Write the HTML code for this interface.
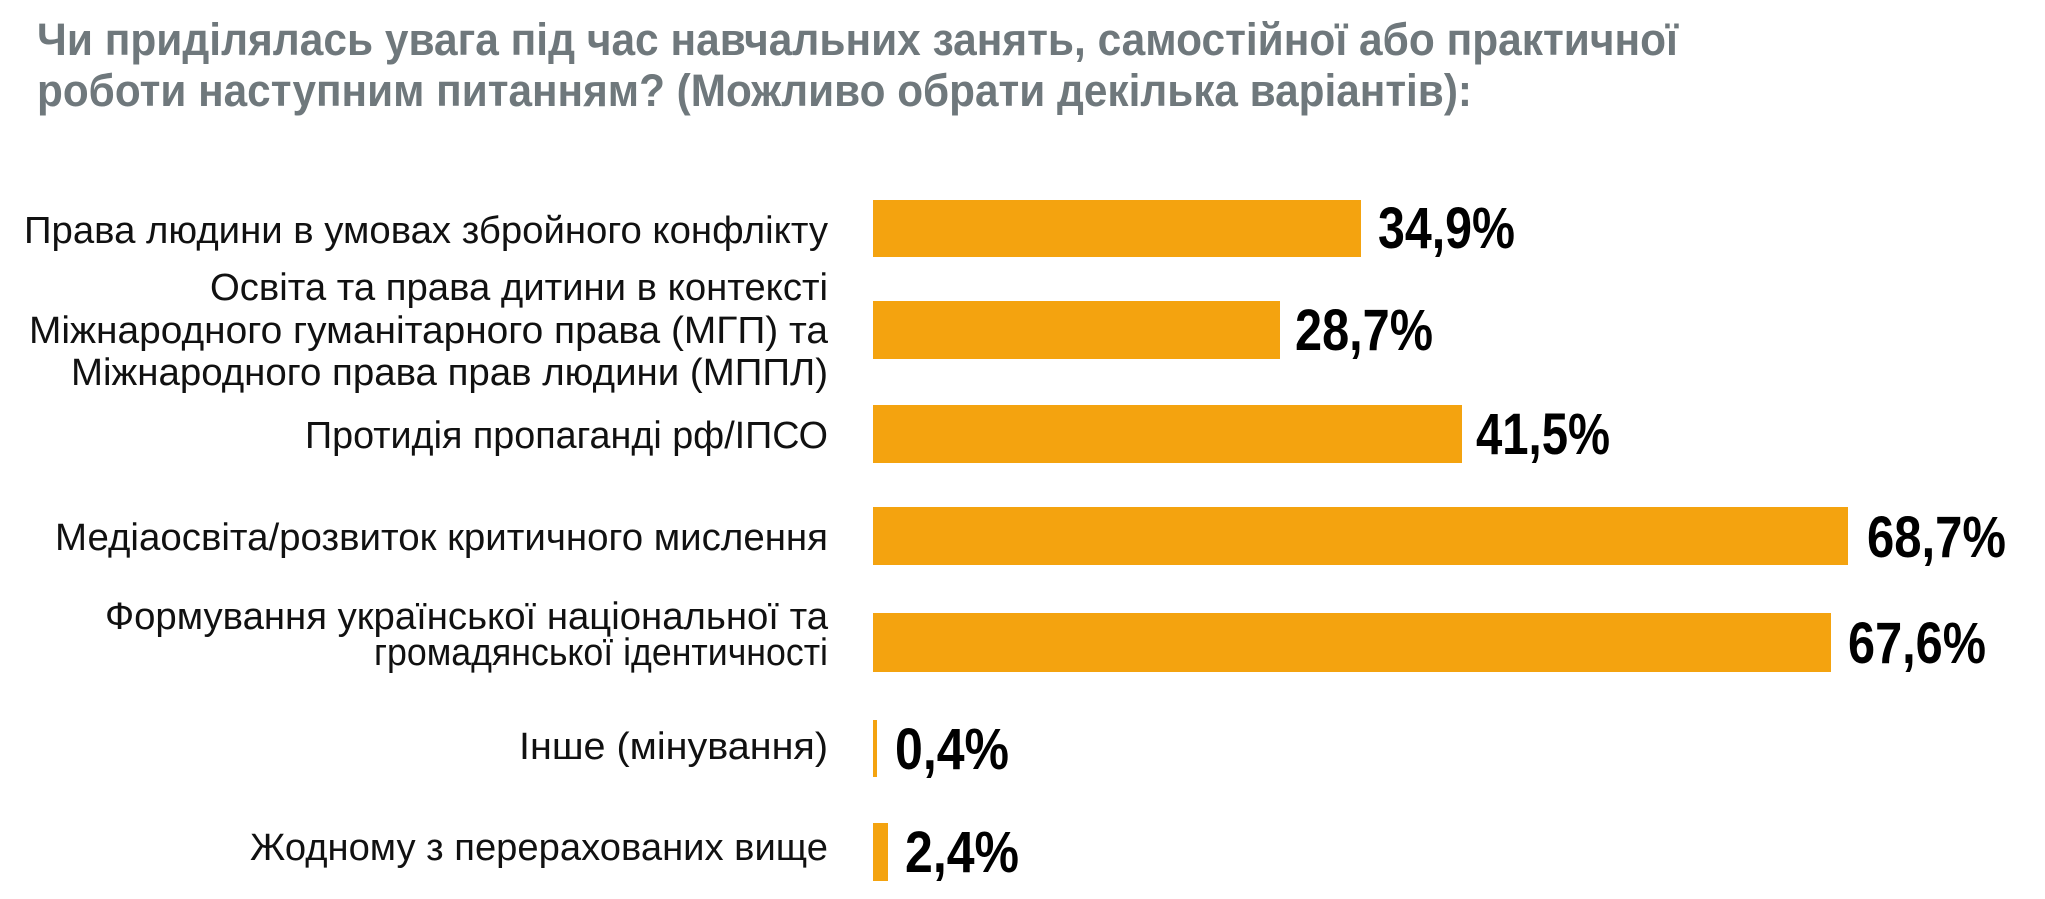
<!DOCTYPE html>
<html><head><meta charset="utf-8"><style>
html,body{margin:0;padding:0;background:#fff;width:2045px;height:899px;overflow:hidden}
svg{display:block}
.t{font-family:"Liberation Sans Narrow","Liberation Sans","DejaVu Sans",sans-serif;font-weight:bold;fill:#6f787c;font-size:45px}
.l{font-family:"Liberation Sans Narrow","Liberation Sans",sans-serif;fill:#111;font-size:38px}
.v{font-family:"Liberation Sans Narrow","Liberation Sans",sans-serif;font-weight:bold;fill:#000;font-size:58px}
</style></head><body>
<svg width="2045" height="899" xmlns="http://www.w3.org/2000/svg">
<text class="t" x="37" y="55" textLength="1641" lengthAdjust="spacingAndGlyphs">Чи приділялась увага під час навчальних занять, самостійної або практичної</text>
<text class="t" x="37" y="106" textLength="1435" lengthAdjust="spacingAndGlyphs">роботи наступним питанням? (Можливо обрати декілька варіантів):</text>
<g fill="#f4a30f">
<rect x="873" y="200" width="488" height="57"/>
<rect x="873" y="301" width="407" height="58"/>
<rect x="873" y="405" width="589" height="58"/>
<rect x="873" y="507" width="975" height="58"/>
<rect x="873" y="613" width="958" height="59"/>
<rect x="873" y="720" width="4" height="57"/>
<rect x="873" y="823" width="15" height="58"/>
</g>
<g class="l" text-anchor="start">
<text x="24" y="243" textLength="804" lengthAdjust="spacingAndGlyphs">Права людини в умовах збройного конфлікту</text>
<text x="210" y="300" textLength="618" lengthAdjust="spacingAndGlyphs">Освіта та права дитини в контексті</text>
<text x="29" y="343" textLength="799" lengthAdjust="spacingAndGlyphs">Міжнародного гуманітарного права (МГП) та</text>
<text x="71" y="385" textLength="757" lengthAdjust="spacingAndGlyphs">Міжнародного права прав людини (МППЛ)</text>
<text x="305" y="448" textLength="523" lengthAdjust="spacingAndGlyphs">Протидія пропаганді рф/ІПСО</text>
<text x="55" y="550" textLength="773" lengthAdjust="spacingAndGlyphs">Медіаосвіта/розвиток критичного мислення</text>
<text x="105" y="629" textLength="723" lengthAdjust="spacingAndGlyphs">Формування української національної та</text>
<text x="374" y="665" textLength="454" lengthAdjust="spacingAndGlyphs">громадянської ідентичності</text>
<text x="519" y="759" textLength="309" lengthAdjust="spacingAndGlyphs">Інше (мінування)</text>
<text x="250" y="860" textLength="578" lengthAdjust="spacingAndGlyphs">Жодному з перерахованих вище</text>
</g>
<g class="v">
<text x="1378" y="248" textLength="137" lengthAdjust="spacingAndGlyphs">34,9%</text>
<text x="1295" y="350" textLength="138" lengthAdjust="spacingAndGlyphs">28,7%</text>
<text x="1476" y="454" textLength="134" lengthAdjust="spacingAndGlyphs">41,5%</text>
<text x="1867" y="557" textLength="139" lengthAdjust="spacingAndGlyphs">68,7%</text>
<text x="1848" y="663" textLength="138" lengthAdjust="spacingAndGlyphs">67,6%</text>
<text x="895" y="769" textLength="114" lengthAdjust="spacingAndGlyphs">0,4%</text>
<text x="905" y="872" textLength="114" lengthAdjust="spacingAndGlyphs">2,4%</text>
</g>
</svg>
</body></html>
